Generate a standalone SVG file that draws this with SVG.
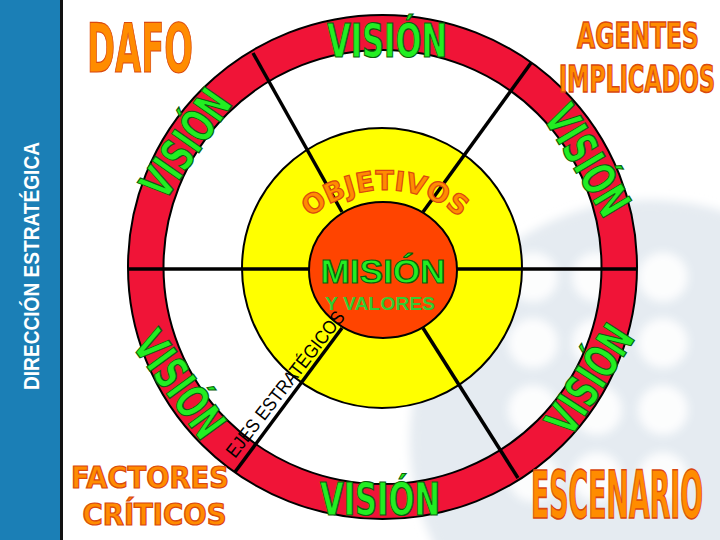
<svg xmlns="http://www.w3.org/2000/svg" width="720" height="540" viewBox="0 0 720 540">
<style>
.wa { font-family: "DejaVu Sans Condensed", "DejaVu Sans", "Liberation Sans", sans-serif; font-weight: bold; font-stretch: condensed; }
.ar { font-family: "Liberation Sans", Arial, sans-serif; font-weight: bold; }
.org { fill: #ff8c00; stroke: #d9480f; stroke-width: 1.2; }
.grn { fill: #22ee22; stroke: #0b5e0b; stroke-width: 1.2; }
.spoke { stroke: #000; stroke-width: 3.5; fill: none; }
.ol { stroke: #000; stroke-width: 2; }
.nss { vector-effect: non-scaling-stroke; }
</style>
<defs>
<path id="objArc" d="M 270,305 A 115 115 0 0 1 500,305"/>
<filter id="soft" x="-20%" y="-20%" width="140%" height="140%"><feGaussianBlur stdDeviation="5"/></filter>
</defs>
<rect width="720" height="540" fill="#fff"/>
<g id="watermark">
<circle cx="650" cy="440" r="240" fill="#e5ebf1" filter="url(#soft)"/>
<g fill="#fff" opacity="0.9" filter="url(#soft)">
<circle cx="533" cy="277" r="25"/><circle cx="597" cy="277" r="25"/><circle cx="663" cy="277" r="25"/>
<circle cx="533" cy="343" r="25"/><circle cx="597" cy="343" r="25"/><circle cx="663" cy="343" r="25"/>
<circle cx="533" cy="410" r="25"/><circle cx="597" cy="410" r="25"/><circle cx="663" cy="410" r="25"/>
<circle cx="533" cy="477" r="25"/><circle cx="597" cy="477" r="25"/><circle cx="663" cy="477" r="25"/>
</g>
</g>
<g id="side-band">
<rect x="0" y="0" width="61" height="540" fill="#1b7fb6"/>
<rect x="60" y="0" width="3" height="540" fill="#111"/>
<text class="ar" transform="translate(39,266) rotate(-90)" x="0" y="0" text-anchor="middle" font-size="22" textLength="248" lengthAdjust="spacingAndGlyphs" fill="#fff">DIRECCIÓN ESTRATÉGICA</text>
</g>
<g id="ring">
<path class="ol" fill="#f01437" fill-rule="evenodd" d="M 128,267 A 254.5 252 0 1 0 637,267 A 254.5 252 0 1 0 128,267 Z M 163.5,267 A 219 217 0 1 0 601.5,267 A 219 217 0 1 0 163.5,267 Z"/>
</g>
<g id="objetivos-circle">
<circle class="ol" cx="382" cy="268" r="140" fill="#ffff00"/>
</g>
<g id="connectors">
<line class="spoke" x1="128" y1="269" x2="637" y2="269"/>
<line class="spoke" x1="253" y1="53" x2="342" y2="212"/>
<line class="spoke" x1="531" y1="63" x2="423" y2="212"/>
<line class="spoke" x1="235" y1="472" x2="342" y2="328"/>
<line class="spoke" x1="518" y1="478" x2="423" y2="328"/>
</g>
<g id="mision">
<ellipse class="ol" cx="383" cy="270" rx="74" ry="68" fill="#ff4400"/>
<text class="ar grn" x="383" y="283" text-anchor="middle" font-size="34" textLength="125" lengthAdjust="spacingAndGlyphs">MISIÓN</text>
<text class="ar" x="380" y="310" text-anchor="middle" font-size="19" textLength="110" lengthAdjust="spacingAndGlyphs" fill="#33cc33">Y VALORES</text>
</g>
<g id="objetivos">
<text class="org" font-family="DejaVu Sans, Liberation Sans, sans-serif" font-weight="bold" font-size="27"><textPath href="#objArc" startOffset="50%" text-anchor="middle">OBJETIVOS</textPath></text>
</g>
<g id="ejes">
<text transform="translate(235,459) rotate(-52)" x="0" y="0" font-family="Liberation Sans, Arial, sans-serif" font-size="19" textLength="180" lengthAdjust="spacingAndGlyphs" fill="#000">EJES ESTRATÉGICOS</text>
</g>
<g id="vision-labels">
<text class="wa grn" x="387" y="57" text-anchor="middle" font-size="46" textLength="120" lengthAdjust="spacingAndGlyphs">VISIÓN</text>
<text class="wa grn" x="380" y="515" text-anchor="middle" font-size="44" textLength="120" lengthAdjust="spacingAndGlyphs">VISIÓN</text>
<text class="wa grn" transform="translate(185,143) rotate(-55)" x="0" y="17" text-anchor="middle" font-size="46" textLength="120" lengthAdjust="spacingAndGlyphs">VISIÓN</text>
<text class="wa grn" transform="translate(588,160) rotate(59)" x="0" y="17" text-anchor="middle" font-size="46" textLength="120" lengthAdjust="spacingAndGlyphs">VISIÓN</text>
<text class="wa grn" transform="translate(589,379) rotate(-57)" x="0" y="17" text-anchor="middle" font-size="46" textLength="120" lengthAdjust="spacingAndGlyphs">VISIÓN</text>
<text class="wa grn" transform="translate(180,384) rotate(54)" x="0" y="17" text-anchor="middle" font-size="46" textLength="120" lengthAdjust="spacingAndGlyphs">VISIÓN</text>
</g>
<g id="dafo">
<text class="wa org" x="140" y="72" text-anchor="middle" font-size="68" textLength="106" lengthAdjust="spacingAndGlyphs">DAFO</text>
</g>
<g id="agentes">
<text class="wa org nss" transform="translate(638,48) scale(1,1.55)" x="0" y="0" text-anchor="middle" font-size="23" textLength="122" lengthAdjust="spacingAndGlyphs">AGENTES</text>
<text class="wa org nss" transform="translate(637,92) scale(1,1.7)" x="0" y="0" text-anchor="middle" font-size="21.7" textLength="156" lengthAdjust="spacingAndGlyphs">IMPLICADOS</text>
</g>
<g id="factores">
<text class="wa org" x="150" y="488" text-anchor="middle" font-size="31" textLength="158" lengthAdjust="spacingAndGlyphs">FACTORES</text>
<text class="wa org" x="154.5" y="525" text-anchor="middle" font-size="30" textLength="144" lengthAdjust="spacingAndGlyphs">CRÍTICOS</text>
</g>
<g id="escenario">
<text class="wa org nss" transform="translate(617,518) scale(1,2.58)" x="0" y="0" text-anchor="middle" font-size="25.5" textLength="172" lengthAdjust="spacingAndGlyphs">ESCENARIO</text>
</g>
</svg>
